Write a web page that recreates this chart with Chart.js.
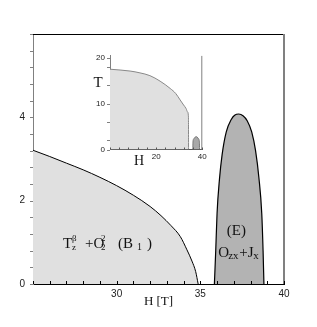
<!DOCTYPE html>
<html><head><meta charset="utf-8">
<script src="https://cdn.jsdelivr.net/npm/chart.js@4/dist/chart.umd.min.js"></script>
<style>
html,body{margin:0;padding:0;background:#fff;}
#wrap{position:relative;width:317px;height:327px;}
canvas{position:absolute;}
</style>
</head><body>
<div id="wrap">
<canvas id="main" width="317" height="327" style="left:0;top:0;width:317px;height:327px"></canvas>
<canvas id="inset" width="135" height="135" style="left:80px;top:40px;width:135px;height:135px"></canvas>
</div>
<script>
// ---- main plot data (H [T], T) ----
const mainB1H = [25.0, 26.0, 27.0, 28.0, 29.0, 30.0, 31.0, 32.0, 32.65, 33.25, 33.8, 34.2, 34.5, 34.72, 34.87];
const mainB1T = [3.21, 3.06, 2.90, 2.74, 2.56, 2.36, 2.13, 1.86, 1.64, 1.40, 1.14, 0.82, 0.55, 0.30, 0.0];
const mainEH = [35.84, 35.92, 36.0, 36.14, 36.3, 36.55, 36.85, 37.05, 37.3, 37.55, 37.8, 38.07, 38.3, 38.5, 38.67, 38.75, 38.8];
const mainET = [0, 0.8, 1.7, 2.5, 3.1, 3.65, 3.95, 4.05, 4.08, 4.04, 3.92, 3.65, 3.2, 2.55, 1.7, 0.8, 0];
const mainXTickLabels = [30, 35, 40];
const mainYTickLabels = [0, 2, 4];
// ---- inset data ----
const insetB1H = [0, 8.7, 13.0, 17.3, 21.7, 26.1, 28.5, 30.4, 31.9, 33.0, 33.6, 34.0, 34.05];
const insetB1T = [17.5, 17.1, 16.7, 16.1, 14.9, 13.3, 12.2, 10.8, 9.7, 8.9, 8.2, 7.1, 0];
const insetEH = [35.9, 35.95, 36.3, 37.0, 37.3, 37.8, 38.4, 38.75, 38.8];
const insetET = [0, 1.6, 2.3, 2.75, 2.8, 2.7, 2.3, 1.6, 0];
const insetXTicks = [0, 4, 8, 12, 16, 20, 24, 28, 32, 36, 40];
const insetXTickLabels = [20, 40];
const insetYTicks = [0, 2, 6, 10, 14, 18, 20];
const insetYTickLabels = [0, 10, 20];

const pts = (xs, ys) => xs.map((x, i) => ({x: x, y: ys[i]}));
const near = (v, arr) => arr.some(a => Math.abs(a - v) < 1e-6);
const SERIF = '"Liberation Serif", "Times New Roman", serif';
const SANS = '"Liberation Sans", Arial, sans-serif';

function line(ctx, x1, y1, x2, y2, color, w) {
  ctx.beginPath(); ctx.strokeStyle = color; ctx.lineWidth = w;
  ctx.moveTo(x1, y1); ctx.lineTo(x2, y2); ctx.stroke();
}
function runs(ctx, x0, y0, list) {
  ctx.textAlign = 'left'; ctx.textBaseline = 'alphabetic'; ctx.fillStyle = '#111';
  for (const r of list) {
    ctx.font = r[2] + 'px ' + SERIF;
    ctx.fillText(r[0], x0 + r[1], y0 + r[3]);
  }
}

const mainDeco = {
  id: 'mainDeco',
  afterDraw(chart) {
    const ctx = chart.ctx, a = chart.chartArea, xs = chart.scales.x, ys = chart.scales.y;
    ctx.save();
    line(ctx, a.left, a.top + 0.5, a.right, a.top + 0.5, '#000', 1);
    line(ctx, a.right, a.top, a.right, a.bottom, '#808080', 2);
    for (const t of ys.ticks) {
      const y = Math.round(ys.getPixelForValue(t.value)) + 0.5;
      line(ctx, a.left - 3, y, a.left, y, '#808080', 1);
    }
    for (const t of xs.ticks) {
      const x = Math.round(xs.getPixelForValue(t.value)) + 0.5;
      line(ctx, x, a.bottom - 3, x, a.bottom, '#000', 1);
    }
    // region labels
    const bx = xs.getPixelForValue(26.79), by = ys.getPixelForValue(0.864);
    runs(ctx, bx, by, [
      ['T', 0, 15, 0], ['\u03b2', 9, 9, -7], ['z', 9, 9, 2],
      ['+O', 22, 15, 0], ['2', 38, 9, -7], ['2', 38, 9, 2],
      ['(B', 55, 15, 0], ['1', 74, 10, 2], [')', 84, 15, 0]
    ]);
    const ex = xs.getPixelForValue(37.15), ey = ys.getPixelForValue(1.18);
    ctx.font = '15px ' + SERIF; ctx.textAlign = 'center'; ctx.fillStyle = '#111';
    ctx.fillText('(E)', ex, ey);
    const ox = xs.getPixelForValue(36.07), oy = ys.getPixelForValue(0.655);
    runs(ctx, ox, oy, [
      ['O', 0, 15, 0], ['zx', 10, 11, 2], ['+J', 21, 15, 0], ['x', 35, 11, 2]
    ]);
    ctx.restore();
  }
};

new Chart(document.getElementById('main'), {
  type: 'scatter',
  data: {
    datasets: [
      {data: pts(mainB1H, mainB1T), showLine: true, fill: 'origin', backgroundColor: '#e0e0e0',
       borderColor: '#000', borderWidth: 1, pointRadius: 0, cubicInterpolationMode: 'monotone'},
      {data: pts(mainEH, mainET), showLine: true, fill: 'origin', backgroundColor: '#b3b3b3',
       borderColor: '#000', borderWidth: 1.2, pointRadius: 0, cubicInterpolationMode: 'monotone'}
    ]
  },
  options: {
    responsive: false, devicePixelRatio: 1, animation: false, events: [],
    layout: {padding: {top: 34, right: 33, left: 0, bottom: 0}},
    plugins: {legend: {display: false}, tooltip: {enabled: false}},
    scales: {
      x: {
        type: 'linear', min: 25, max: 40, z: 1,
        grid: {display: false, drawTicks: false}, border: {display: true, color: '#000', width: 1},
        ticks: {stepSize: 1, autoSkip: false, maxRotation: 0, padding: 4, color: '#222',
                font: {family: SANS, size: 10},
                callback: v => near(v, mainXTickLabels) ? String(Math.round(v)) : ''},
        title: {display: true, text: 'H [T]', color: '#111', font: {family: SERIF, size: 13},
                padding: {top: 0, bottom: 18}},
        afterFit: s => { s.height = 43; }
      },
      y: {
        type: 'linear', min: 0, max: 6, z: 1,
        grid: {display: false, drawTicks: false}, border: {display: true, color: '#808080', width: 1},
        ticks: {stepSize: 0.4, autoSkip: false, padding: 8, color: '#222',
                font: {family: SANS, size: 10},
                callback: v => near(v, mainYTickLabels) ? String(Math.round(v)) : ''},
        afterFit: s => { s.width = 33; }
      }
    }
  },
  plugins: [mainDeco]
});

const insetDeco = {
  id: 'insetDeco',
  afterDraw(chart) {
    const ctx = chart.ctx, a = chart.chartArea, xs = chart.scales.x, ys = chart.scales.y;
    ctx.save();
    line(ctx, a.right - 0.5, a.top, a.right - 0.5, a.bottom, '#808080', 1);
    for (const t of ys.ticks) {
      const y = Math.round(ys.getPixelForValue(t.value)) + 0.5;
      line(ctx, a.left - 3, y, a.left, y, '#808080', 1);
    }
    for (const t of xs.ticks) {
      const x = Math.round(xs.getPixelForValue(t.value)) + 0.5;
      line(ctx, x, a.bottom - 2, x, a.bottom, '#555', 1);
    }
    ctx.fillStyle = '#111'; ctx.textAlign = 'center'; ctx.textBaseline = 'middle';
    ctx.font = '15px ' + SERIF;
    ctx.fillText('T', a.left - 12, a.top + 27);
    ctx.font = '14px ' + SERIF;
    ctx.fillText('H', a.left + 29, a.bottom + 12);
    ctx.restore();
  }
};

new Chart(document.getElementById('inset'), {
  type: 'scatter',
  data: {
    datasets: [
      {data: pts(insetB1H, insetB1T), showLine: true, fill: 'origin', backgroundColor: '#e0e0e0',
       borderColor: '#888', borderWidth: 1, pointRadius: 0, cubicInterpolationMode: 'monotone'},
      {data: pts(insetEH, insetET), showLine: true, fill: 'origin', backgroundColor: '#a8a8a8',
       borderColor: '#777', borderWidth: 1, pointRadius: 0, cubicInterpolationMode: 'monotone'}
    ]
  },
  options: {
    responsive: false, devicePixelRatio: 1, animation: false, events: [],
    layout: {padding: {top: 15.9, right: 12.7, left: 0, bottom: 0}},
    plugins: {legend: {display: false}, tooltip: {enabled: false}},
    scales: {
      x: {
        type: 'linear', min: 0, max: 40, z: 1,
        grid: {display: false, drawTicks: false}, border: {display: true, color: '#555', width: 1},
        afterBuildTicks: s => { s.ticks = insetXTicks.map(v => ({value: v})); },
        ticks: {autoSkip: false, maxRotation: 0, padding: 2, color: '#222',
                font: {family: SANS, size: 8},
                callback: v => near(v, insetXTickLabels) ? String(v) : ''},
        afterFit: s => { s.height = 25.5; }
      },
      y: {
        type: 'linear', min: 0, max: 20.4, z: 1,
        grid: {display: false, drawTicks: false}, border: {display: true, color: '#808080', width: 1},
        afterBuildTicks: s => { s.ticks = insetYTicks.map(v => ({value: v})); },
        ticks: {autoSkip: false, padding: 5, color: '#222',
                font: {family: SANS, size: 8},
                callback: v => near(v, insetYTickLabels) ? String(v) : ''},
        afterFit: s => { s.width = 30; }
      }
    }
  },
  plugins: [insetDeco]
});
</script>
</body></html>
